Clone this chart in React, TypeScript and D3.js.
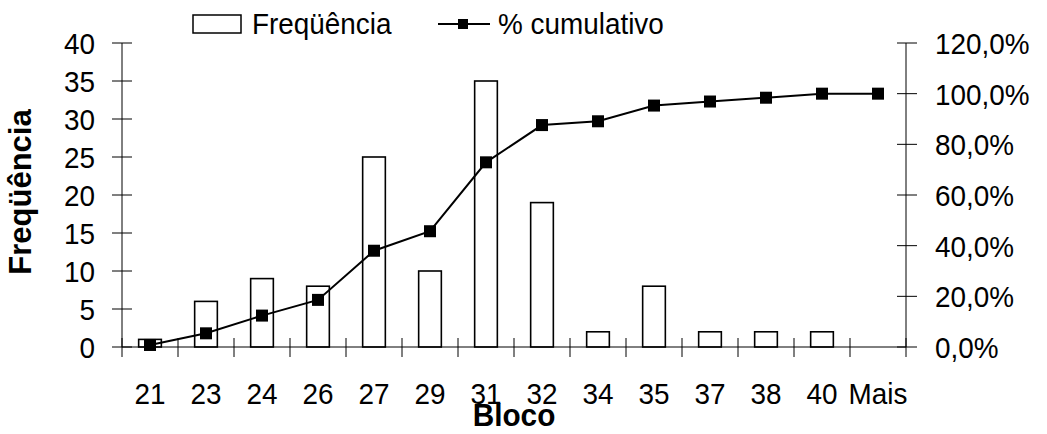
import * as d3 from 'd3';

const categories = ['21', '23', '24', '26', '27', '29', '31', '32', '34', '35', '37', '38', '40', 'Mais'];
const frequencia = [1, 6, 9, 8, 25, 10, 35, 19, 2, 8, 2, 2, 2, 0];
const cumulativo = [0.8, 5.4, 12.4, 18.6, 38.0, 45.7, 72.9, 87.6, 89.1, 95.3, 96.9, 98.4, 100, 100];
const leftTicks = [0, 5, 10, 15, 20, 25, 30, 35, 40];
const rightTicks = [0, 20, 40, 60, 80, 100, 120];

const W = 1047;
const H = 434;
const FONT = '"Liberation Sans", Arial, Helvetica, sans-serif';

// text a bit narrower than its height, like the original export
const T = ({ x, y, anchor = 'start', size = 30, bold = false, children }: any) => (
  <text
    transform={`translate(${x},${y}) scale(0.93,1)`}
    textAnchor={anchor}
    fontSize={size}
    fontWeight={bold ? 'bold' : 'normal'}
  >
    {children}
  </text>
);

const App = () => {
  const left = 122;
  const right = 906;
  const top = 43;
  const bottom = 347;

  const x = d3.scaleBand<string>().domain(categories).range([left, right]).paddingInner(0.595).paddingOuter(0.2975);
  const yL = d3.scaleLinear().domain([0, 40]).range([bottom, top]);
  const yR = d3.scaleLinear().domain([0, 120]).range([bottom, top]);

  const center = (c: string) => (x(c) ?? 0) + x.bandwidth() / 2;
  const line = d3
    .line<number>()
    .x((_, i) => center(categories[i]))
    .y((d) => yR(d));

  const boundaries = d3.range(categories.length + 1).map((i) => left + i * x.step());
  const fmtPct = (v: number) => v.toFixed(1).replace('.', ',') + '%';

  return (
    <svg
      width={W}
      height={H}
      style={{ position: 'absolute', left: 0, top: 0, display: 'block', background: '#fff' }}
      fontFamily={FONT}
    >
      {/* bars */}
      {frequencia.map((v, i) =>
        v > 0 ? (
          <rect
            key={categories[i]}
            x={x(categories[i])}
            y={yL(v)}
            width={x.bandwidth()}
            height={yL(0) - yL(v)}
            fill="#fff"
            stroke="#000"
            strokeWidth={1.6}
          />
        ) : null
      )}

      {/* axes */}
      <g stroke="#000" strokeWidth={1}>
        <line x1={left} x2={left} y1={top} y2={bottom} />
        <line x1={right} x2={right} y1={top} y2={bottom} />
        <line x1={left} x2={right} y1={bottom} y2={bottom} />
        {leftTicks.map((t) => (
          <line key={'l' + t} x1={left - 10} x2={left + 10} y1={yL(t)} y2={yL(t)} />
        ))}
        {rightTicks.map((t) => (
          <line key={'r' + t} x1={right - 9} x2={right + 11} y1={yR(t)} y2={yR(t)} />
        ))}
        {boundaries.map((b, i) => (
          <line key={'x' + i} x1={b} x2={b} y1={bottom - 9} y2={bottom + 10} />
        ))}
      </g>

      {/* tick labels */}
      <g fill="#000">
        {leftTicks.map((t) => (
          <T key={'lt' + t} x={95} y={yL(t) + 11} anchor="end">
            {t}
          </T>
        ))}
        {rightTicks.map((t) => (
          <T key={'rt' + t} x={935} y={yR(t) + 11}>
            {fmtPct(t)}
          </T>
        ))}
        {categories.map((c) => (
          <T key={'xt' + c} x={center(c)} y={404} anchor="middle">
            {c}
          </T>
        ))}
      </g>

      {/* cumulative line */}
      <path d={line(cumulativo) ?? ''} fill="none" stroke="#000" strokeWidth={2} />
      {cumulativo.map((v, i) => (
        <rect key={'m' + i} x={center(categories[i]) - 6} y={yR(v) - 6} width={12} height={12} fill="#000" />
      ))}

      {/* axis titles */}
      <text
        x={0}
        y={0}
        transform={`translate(31, 192) rotate(-90)`}
        textAnchor="middle"
        fontSize={31}
        fontWeight="bold"
      >
        Freqüência
      </text>
      <T x={514} y={426} anchor="middle" size={32} bold>
        Bloco
      </T>

      {/* legend */}
      <g>
        <rect x={193} y={15} width={48} height={18} fill="#fff" stroke="#000" strokeWidth={1.5} />
        <T x={252} y={34} size={30}>
          Freqüência
        </T>
        <line x1={438} x2={490} y1={24} y2={24} stroke="#000" strokeWidth={2} />
        <rect x={458} y={19} width={10} height={10} fill="#000" />
        <T x={498} y={34} size={30}>
          % cumulativo
        </T>
      </g>
    </svg>
  );
};

export default App;
